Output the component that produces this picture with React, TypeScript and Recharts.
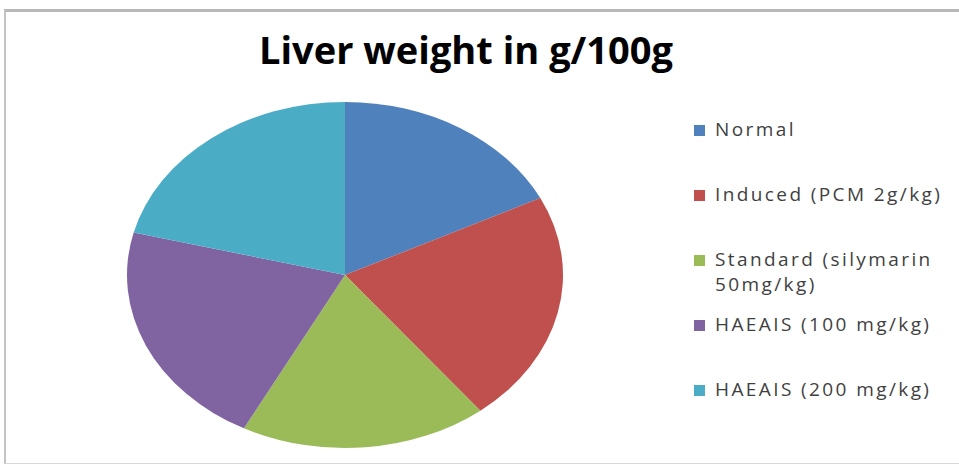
import { Cell, Legend, Pie, PieChart } from "recharts";

const groups = [
  "Normal",
  "Induced (PCM 2g/kg)",
  "Standard (silymarin 50mg/kg)",
  "HAEAIS (100 mg/kg)",
  "HAEAIS (200 mg/kg)",
];
const liverWeight = [3.19, 3.91, 3.31, 3.84, 3.8];
const colors = ["#4F81BD", "#C0504D", "#9BBB59", "#8064A2", "#4BACC6"];

const data = groups.map((name, i) => ({ name, value: liverWeight[i] }));

const font = "'Open Sans', 'DejaVu Sans', sans-serif";

function LegendList({ payload }: { payload?: any[] }) {
  // keep the series order, not the alphabetical one
  const items = [...(payload ?? [])].sort(
    (a, b) => groups.indexOf(a.value) - groups.indexOf(b.value)
  );
  return (
    <div style={{ fontFamily: font, fontSize: 19, color: "#3f3f3f" }}>
      {items.map((p, i) => (
        <div
          key={i}
          style={{ height: 65, display: "flex", alignItems: "flex-start" }}
        >
          <span
            style={{
              width: 11,
              height: 11,
              background: p.color,
              marginTop: 8,
              marginRight: 10,
              flexShrink: 0,
            }}
          />
          <span style={{ width: 240, lineHeight: "25px", letterSpacing: 2.4 }}>
            {p.value}
          </span>
        </div>
      ))}
    </div>
  );
}

export default function App() {
  return (
    <div
      className="liver-pie"
      style={{
        position: "absolute",
        left: 0,
        top: 0,
        width: 959,
        height: 466,
        background: "#fff",
        overflow: "hidden",
      }}
    >
      <style>{`
        .liver-pie .recharts-surface {
          transform: scaleY(0.794);
          transform-origin: 345px 275px;
        }
      `}</style>
      <div
        style={{
          position: "absolute",
          left: 4,
          top: 9,
          right: -4,
          bottom: 2,
          borderTop: "3px solid #b8b8b8",
          borderLeft: "2px solid #c4c4c4",
          borderBottom: "1px solid #d8d8d8",
        }}
      />
      <div
        style={{
          position: "absolute",
          left: 0,
          width: 932,
          top: 23,
          textAlign: "center",
          fontFamily: font,
          fontWeight: 700,
          fontSize: 38,
          color: "#000",
        }}
      >
        Liver weight in g/100g
      </div>
      <div style={{ position: "absolute", left: 0, top: 0 }}>
        <PieChart
          width={959}
          height={560}
          margin={{ top: 0, right: 0, bottom: 0, left: 0 }}
        >
          <Pie
            data={data}
            dataKey="value"
            nameKey="name"
            cx={345}
            cy={275}
            outerRadius={218}
            startAngle={90}
            endAngle={-270}
            stroke="none"
            isAnimationActive={false}
          >
            {data.map((d, i) => (
              <Cell key={d.name} fill={colors[i]} />
            ))}
          </Pie>
          <Legend
            layout="vertical"
            align="right"
            verticalAlign="top"
            content={<LegendList />}
            wrapperStyle={{ left: 694, top: 117, width: 265 }}
          />
        </PieChart>
      </div>
    </div>
  );
}
